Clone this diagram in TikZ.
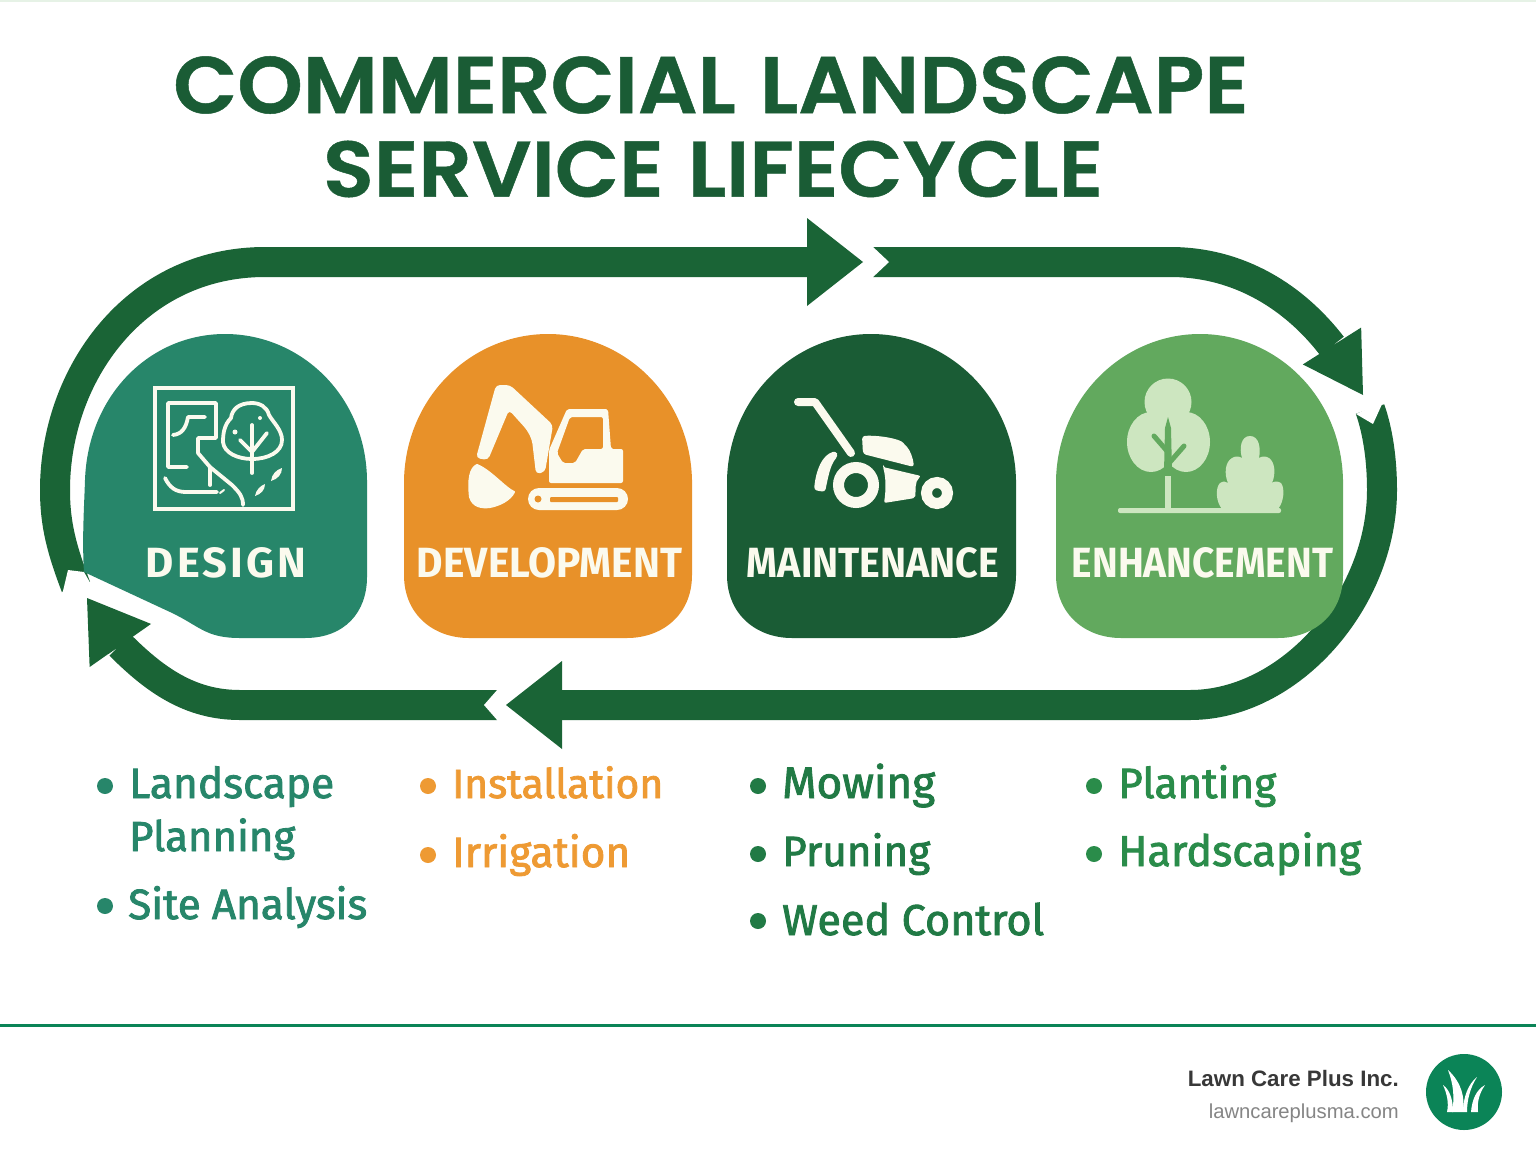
\documentclass[tikz,border=0pt]{standalone}
\usepackage{fontspec}
\usepackage{graphicx}
\usetikzlibrary{arrows.meta,positioning}
\setmainfont{Liberation Sans}
\newfontfamily\titlefont{Poppins SemiBold}[FakeBold=0.6]
\newfontfamily\labelfont{Fira Sans}
\newfontfamily\itemfont{Fira Sans}[FakeBold=2]
\definecolor{arrowgreen}{HTML}{1A6436}
\definecolor{designgreen}{HTML}{27866A}
\definecolor{devorange}{HTML}{E89129}
\definecolor{maintgreen}{HTML}{1A5C35}
\definecolor{enhgreen}{HTML}{62A95E}
\definecolor{enhitem}{HTML}{2A8C4A}
\definecolor{mainitem}{HTML}{217A45}
\definecolor{devitem}{HTML}{EE9A33}
\definecolor{cream}{HTML}{FBFAEE}
\definecolor{palegreen}{HTML}{CDE6C0}
\definecolor{footgreen}{HTML}{0B8457}
\newcommand{\fitlabel}[2]{\resizebox{#1pt}{30pt}{\labelfont\bfseries #2}}
\newcommand{\fititem}[2]{\resizebox{#1pt}{!}{\fontsize{44}{44}\itemfont #2}}
\newcommand{\archshape}[3]{(#1,480) .. controls (#1+2,395) and (#3-75,334) .. (#3,334) .. controls (#3+75,334) and (#2-2,395) .. (#2,480) -- (#2,575) .. controls (#2,615) and (#2-30,638) .. (#2-65,638) -- (#1+65,638) .. controls (#1+30,638) and (#1,615) .. (#1,575) -- cycle}
\tikzset{
    cyclearrow/.style={draw=arrowgreen, line width=30pt},
    bigtip/.style={-{Triangle[length=56pt,width=88pt,line width=0pt]}},
    smalltip/.style={-{Triangle[length=58pt,width=#1,line width=0pt]}},
    notch/.style={fill=white},
    label/.style={inner sep=0pt, text=cream},
    item/.style={inner sep=0pt, anchor=base west},
    dot/.style={circle, inner sep=0pt, minimum size=16pt},
    iconline/.style={draw=cream, line width=3.8pt, line cap=round, line join=round},
    iconfill/.style={fill=cream, draw=cream, line width=2pt, line join=round}
}
\begin{document}
\begin{tikzpicture}[x=1pt, y=-1pt]
    \useasboundingbox (0,0) rectangle (1536,1154);
    \fill [white] (0,0) rectangle (1536,1154);
    \fill [green!30!gray!15] (0,0) rectangle (1536,1.5);

    % Title
    \node [inner sep=0pt, text=maintgreen] (title1) at (711,85)  {\resizebox{1075pt}{57pt}{\titlefont COMMERCIAL\hspace{0.05em} LANDSCAPE}};
    \node [inner sep=0pt, text=maintgreen] (title2) at (713,169) {\resizebox{780pt}{56pt}{\titlefont SERVICE\hspace{0.05em} LIFECYCLE}};

    % Arrow ends
    \coordinate (tailA) at (76,587);
    \coordinate (headA) at (863,262);
    \coordinate (tailB) at (873,262);
    \coordinate (headB) at (1363,395);
    \coordinate (tailC) at (1370,409);
    \coordinate (headC) at (506,705);
    \coordinate (tailD) at (497,705);
    \coordinate (headD) at (87,598);

    % Paths
    \path [cyclearrow, bigtip] (tailA) .. controls (62,550) and (55,525) .. (55,490) .. controls (55,375) and (135,262) .. (265,262) -- (headA);
    \fill [notch] (63,591) -- (68,570) -- (84,572) -- (100,600) -- (55,606) -- cycle;
    \path [cyclearrow, smalltip=69pt] (tailB) -- (1170,262) .. controls (1240,262) and (1295,298) .. (1332,346) -- (headB);
    \fill [notch] (872,246) -- (889,262) -- (872,278) -- cycle;
    \path [cyclearrow, bigtip] (tailC) .. controls (1378,432) and (1382,460) .. (1382,490) .. controls (1382,600) and (1290,705) .. (1190,705) -- (headC);
    \fill [notch] (1383,402) -- (1373,424) -- (1356,414) -- cycle;
    \path [cyclearrow, smalltip=75pt] (tailD) -- (240,705) .. controls (190,705) and (155,680) .. (120,645) -- (headD);
    \fill [notch] (498,689) -- (484,705) -- (498,721) -- cycle;

    % Phase shapes
    \fill [designgreen] (84,572) .. controls (82,540) and (84,510) .. (85,480) .. controls (88,395) and (150,334) .. (225,334) .. controls (300,334) and (366,395) .. (367,480) -- (367,577) .. controls (367,612) and (345,638) .. (305,638) -- (240,638) .. controls (205,638) and (200,626) .. (170,612) -- cycle;
    \fill [devorange]   \archshape{404}{692}{548};
    \fill [maintgreen]  \archshape{727}{1016}{871};
    \fill [enhgreen]    \archshape{1056}{1343}{1200};

    % Design icon
    \draw [iconline, line cap=butt, line join=miter] (155,388) rectangle (293,509);
    \draw [iconline] (187,467) -- (168,467) -- (168,403) -- (216,403) -- (216,438) -- (198,438) -- (198,453) -- (210,467) -- (232,485) .. controls (240,493) and (243,497) .. (243,505);
    \draw [iconline] (205,417) -- (188,417) .. controls (186,428) and (182,434) .. (173,435);
    \draw [iconline] (210,467) -- (210,485);
    \draw [iconline] (165,478) .. controls (170,488) and (176,492) .. (186,492) -- (217,492);
    \draw [iconline, line width=2pt] (220,493) -- (224,490);
    \draw [iconline] (252,403) .. controls (238,403) and (232,410) .. (231,418) .. controls (224,425) and (223,434) .. (223,442) .. controls (224,453) and (238,459) .. (252,459) .. controls (268,459) and (282,452) .. (282,440) .. controls (282,430) and (273,422) .. (269,415) .. controls (267,407) and (260,403) .. (252,403) -- cycle;
    \draw [iconline] (252,425) -- (252,473);
    \draw [iconline] (240,440) -- (252,452) -- (267,433);
    \fill [cream] (255,496) .. controls (256,490) and (260,486) .. (265,484) .. controls (265,490) and (261,494) .. (255,496) -- cycle;
    \fill [cream] (271,481) .. controls (272,474) and (276,470) .. (282,468) .. controls (282,474) and (278,479) .. (271,481) -- cycle;
    \fill [cream] (235,432) circle (2.5);
    \fill [cream] (260,418) circle (2);

    % Development icon
    \fill [cream, rounded corners=4pt] (496,385) -- (510,385) -- (553,425) -- (545,472) -- (536,474) -- (532,440) -- (527,430) -- (509,410) -- (488,460) -- (476,458) -- cycle;
    \fill [iconfill] (477,465) .. controls (470,468) and (468,480) .. (470,497) .. controls (473,507) and (482,508) .. (490,507) .. controls (500,505) and (510,500) .. (514,492) .. controls (505,488) and (490,470) .. (477,465) -- cycle;
    \fill [cream, rounded corners=2pt, even odd rule] (567,409) -- (608,409) -- (611,449) -- (623,449) -- (623,483) -- (549,483) -- (549,450) -- cycle
        (570,417) -- (557,453) -- (563,463) -- (575,463) -- (583,449) -- (603,449) -- (603,417) -- cycle;
    \fill [cream, rounded corners=11pt] (528,488) rectangle (628,510);
    \fill [devorange, rounded corners=1pt] (550,497) rectangle (618,502);
    \fill [devorange] (538,499) circle (3.5);

    % Maintenance icon
    \draw [iconline, line width=8pt] (798,402) -- (815,402) -- (851,453);
    \draw [cream, line width=11pt] (856,485) circle (17.5);
    \draw [cream, line width=11pt] (937,493) circle (10.5);
    \fill [cream, rounded corners=3pt] (862,436) .. controls (880,435) and (900,439) .. (905,445) .. controls (910,450) and (913,458) .. (914,467) -- (863,454) -- cycle;
    \fill [cream, rounded corners=2pt] (883,467) -- (921,476) .. controls (914,482) and (916,492) .. (915,498) -- (884,503) .. controls (886,490) and (886,478) .. (883,467) -- cycle;
    \fill [cream, rounded corners=3pt] (836,451) .. controls (822,455) and (816,470) .. (814,490) -- (825,492) .. controls (828,478) and (830,465) .. (838,456) -- cycle;

    % Enhancement icon
    \fill [palegreen] (1168,402) circle (23.5);
    \fill [palegreen] (1151,442) ellipse (24 and 30);
    \fill [palegreen] (1186,442) ellipse (24 and 30);
    \fill [enhgreen] (1168,417) -- (1171,428) -- (1172,472) -- (1164,472) -- (1165,428) -- cycle;
    \draw [enhgreen, line width=5pt, line cap=round] (1154,436) -- (1167,451);
    \draw [enhgreen, line width=5pt, line cap=round] (1184,446) -- (1170,462);
    \draw [palegreen, line width=5.5pt] (1168,476) -- (1168,508);
    \fill [palegreen, rounded corners=2pt] (1118,508) rectangle (1281,513);
    \fill [palegreen] (1222,509) .. controls (1216,502) and (1215,488) .. (1220,483) .. controls (1223,481) and (1226,481) .. (1228,483) .. controls (1224,474) and (1225,462) .. (1232,458) .. controls (1235,456) and (1239,456) .. (1242,458) .. controls (1239,448) and (1241,436) .. (1250,436) .. controls (1259,436) and (1261,448) .. (1259,458) .. controls (1262,456) and (1266,456) .. (1269,458) .. controls (1275,462) and (1276,474) .. (1272,483) .. controls (1274,481) and (1278,481) .. (1281,483) .. controls (1285,488) and (1284,502) .. (1278,509) -- cycle;

    % Phase labels
    \node [label] (design)  at (226,562.5)  {\fitlabel{160}{\addfontfeature{LetterSpace=7}DESIGN}};
    \node [label] (develop) at (549.5,562.5) {\fitlabel{265}{DEVELOPMENT}};
    \node [label] (maint)   at (873,562.5)  {\fitlabel{252}{MAINTENANCE}};
    \node [label] (enhance) at (1202.5,562.5) {\fitlabel{261}{ENHANCEMENT}};

    % Lists
    \node [dot, fill=designgreen] (d1) at (105,786) {};
    \node [dot, fill=designgreen] (d2) at (105,906) {};
    \node [item, text=designgreen] (d1a) at (129,798) {\fititem{205}{Landscape}};
    \node [item, text=designgreen] (d1b) at (129,851) {\fititem{166}{Planning}};
    \node [item, text=designgreen] (d2a) at (128,919) {\fititem{239}{Site Analysis}};

    \node [dot, fill=devitem] (o1) at (428,786) {};
    \node [dot, fill=devitem] (o2) at (428,855) {};
    \node [item, text=devitem] (o1a) at (452,798) {\fititem{211}{Installation}};
    \node [item, text=devitem] (o2a) at (452,867) {\fititem{178}{Irrigation}};

    \node [dot, fill=mainitem] (m1) at (758,786) {};
    \node [dot, fill=mainitem] (m2) at (758,854) {};
    \node [dot, fill=mainitem] (m3) at (758,921) {};
    \node [item, text=mainitem] (m1a) at (782,798) {\fititem{153}{Mowing}};
    \node [item, text=mainitem] (m2a) at (782,866) {\fititem{148}{Pruning}};
    \node [item, text=mainitem] (m3a) at (782,935) {\fititem{262}{Weed Control}};

    \node [dot, fill=enhitem] (e1) at (1094,786) {};
    \node [dot, fill=enhitem] (e2) at (1094,854) {};
    \node [item, text=enhitem] (e1a) at (1118,798) {\fititem{158}{Planting}};
    \node [item, text=enhitem] (e2a) at (1118,866) {\fititem{243}{Hardscaping}};

    % Footer
    \fill [footgreen] (0,1024) rectangle (1536,1027);
    \node [inner sep=0pt, anchor=base east, text=black!78] (company) at (1399,1086) {\resizebox{211pt}{!}{\fontsize{24}{24}\selectfont\bfseries Lawn Care Plus Inc.}};
    \node [inner sep=0pt, anchor=base east, text=black!48] (website) at (1399,1118) {\resizebox{190pt}{!}{\fontsize{21}{21}\selectfont lawncareplusma.com}};
    \node [circle, fill=footgreen, inner sep=0pt, minimum size=76pt] (logo) at (1464,1092) {};
    \fill [white] (1448,1070) .. controls (1462,1083) and (1465,1098) .. (1463,1112) -- (1452,1112) .. controls (1455,1097) and (1453,1083) .. (1448,1070) -- cycle;
    \fill [white] (1443,1085) .. controls (1450,1090) and (1453,1100) .. (1453,1112) -- (1447,1112) .. controls (1449,1103) and (1447,1094) .. (1443,1085) -- cycle;
    \fill [white] (1477,1077) .. controls (1468,1084) and (1463,1098) .. (1463,1112) -- (1467,1112) .. controls (1467,1100) and (1470,1088) .. (1477,1077) -- cycle;
    \fill [white] (1485,1085) .. controls (1476,1090) and (1472,1100) .. (1471,1112) -- (1478,1112) .. controls (1477,1102) and (1479,1094) .. (1485,1085) -- cycle;
\end{tikzpicture}
\end{document}
